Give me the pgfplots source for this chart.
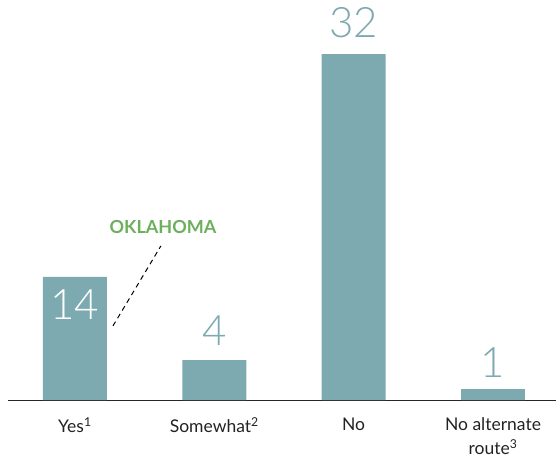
\documentclass[border=0pt]{standalone}
\usepackage{pgfplots}
\pgfplotsset{compat=1.18}
\usepackage{fontspec}
\setmainfont{Lato}
\newfontfamily\lightfont{Lato Light}
\definecolor{barc}{HTML}{7CAAB0}
\definecolor{okc}{HTML}{6CAF5C}
\definecolor{txt}{HTML}{222222}
\begin{document}
\begin{tikzpicture}
\useasboundingbox (0,0) rectangle (556pt,461pt);
\begin{axis}[
  at={(8pt,61pt)}, anchor=south west,
  scale only axis, width=548pt, height=400pt,
  xmin=-0.48, xmax=3.452, ymin=0, ymax=37,
  ybar, bar width=0.459,
  axis x line=bottom, hide y axis,
  x axis line style={-, line width=1pt, draw=black!85},
  xtick={0,1,2,3},
  xticklabels={Yes\textsuperscript{1}, Somewhat\textsuperscript{2}, No, {No alternate\\route\textsuperscript{3}}},
  major tick length=0pt,
  xticklabel style={font=\fontsize{17.5}{24}\selectfont, text=txt, align=center, yshift=-14pt},
  clip=false,
]
\addplot[fill=barc, draw=none] coordinates {(0,11.4) (1,3.7) (2,32) (3,1)};
\node[text=white, font=\lightfont\fontsize{42}{42}\selectfont] at (axis cs:0,8.79) {14};
\node[text=barc, font=\lightfont\fontsize{42}{42}\selectfont] at (axis cs:1,6.38) {4};
\node[text=barc, font=\lightfont\fontsize{42}{42}\selectfont] at (axis cs:2,34.9) {32};
\node[text=barc, font=\lightfont\fontsize{42}{42}\selectfont] at (axis cs:3,3.5) {1};
\node[text=okc, font=\bfseries\fontsize{18}{18}\selectfont] at (axis cs:0.632,16.0) {OKLAHOMA};
\draw[line width=1pt, dash pattern=on 5pt off 4pt] (axis cs:0.273,6.85) -- (axis cs:0.617,14.25);
\end{axis}
\end{tikzpicture}
\end{document}
